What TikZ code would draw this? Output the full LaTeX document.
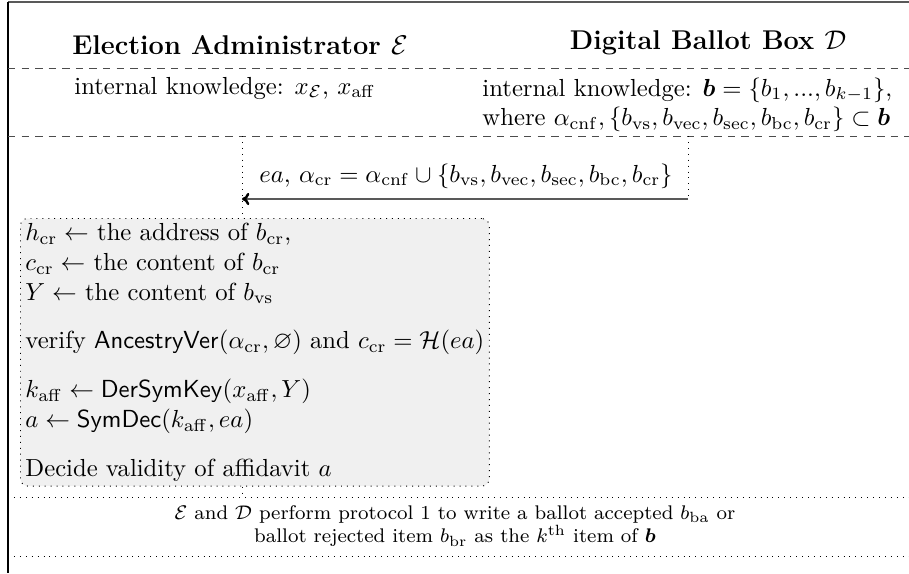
\documentclass[tikz,border=0pt]{standalone}
\usepackage{amsmath,amssymb,bm}
\usetikzlibrary{arrows.meta}
\tikzset{
  sep/.style={dashed, dash pattern=on 3pt off 2.5pt, line width=0.4pt, gray!60!black},
  dotline/.style={dotted, line width=0.4pt},
  msgarrow/.style={line width=1pt, gray!70!black, -{To[black,length=3pt,width=5pt]}},
  procbox/.style={draw, dotted, rounded corners=3pt, fill=gray!12, align=left, inner sep=2pt, anchor=north west},
  head/.style={font=\fontsize{11}{13}\selectfont\bfseries},
}
\begin{document}
\begin{tikzpicture}[x=0.405pt,y=-0.405pt]
\useasboundingbox (0,0) rectangle (909,573);
% frame
\draw[line width=0.5pt, gray!70!black] (8,2) -- (909,2);
\draw[line width=0.8pt] (8,1.5) -- (8,573);
% headers
\node[head] (hE) at (240,45) {Election Administrator $\mathcal{E}$};
\node[head] (hD) at (708,43) {Digital Ballot Box $\mathcal{D}$};
\coordinate (d1l) at (8,68); \coordinate (d1r) at (909,68);
\draw[sep] (d1l) -- (d1r);
\node (ikE) at (225,88) {internal knowledge: $x_{\mathcal{E}}$, $x_{\mathrm{aff}}$};
\node[anchor=north west, align=left, inner sep=0pt] (ikD) at (482,77) {internal knowledge: $\bm{b}=\{b_1,...,b_{k-1}\}$,\\ where $\alpha_{\mathrm{cnf}}, \{b_{\mathrm{vs}}, b_{\mathrm{vec}}, b_{\mathrm{sec}}, b_{\mathrm{bc}}, b_{\mathrm{cr}}\}\subset\bm{b}$};
\coordinate (d2l) at (8,136); \coordinate (d2r) at (909,136);
\draw[sep] (d2l) -- (d2r);
% message
\coordinate (tE) at (242,136);
\coordinate (tD) at (688,136);
\coordinate (aD) at (688,199);
\coordinate (aE) at (242,199);
\draw[dotline] (tD) -- (aD);
\draw[msgarrow] (aD) -- (aE);
\node (lbl) at (466,176) {$ea$, $\alpha_{\mathrm{cr}} = \alpha_{\mathrm{cnf}} \cup \{b_{\mathrm{vs}}, b_{\mathrm{vec}}, b_{\mathrm{sec}}, b_{\mathrm{bc}}, b_{\mathrm{cr}}\}$};
% box
\node[procbox] (box) at (20,218) {%
$h_{\mathrm{cr}} \leftarrow$ the address of $b_{\mathrm{cr}}$,\\
$c_{\mathrm{cr}} \leftarrow$ the content of $b_{\mathrm{cr}}$\\
$Y \leftarrow$ the content of $b_{\mathrm{vs}}$\\[1.8ex]
verify $\mathsf{AncestryVer}(\alpha_{\mathrm{cr}},\varnothing)$ and $c_{\mathrm{cr}} = \mathcal{H}(ea)$\\[1.8ex]
$k_{\mathrm{aff}} \leftarrow \mathsf{DerSymKey}(x_{\mathrm{aff}},Y)$\\
$a \leftarrow \mathsf{SymDec}(k_{\mathrm{aff}},ea)$\\[1.8ex]
Decide validity of affidavit $a$};
\draw[dotline] (tE) -- (box.north -| tE);
\coordinate (bE) at (242,497);
\draw[dotline] (box.south -| tE) -- (bE);
% bottom
\coordinate (d3l) at (8,497); \coordinate (d3r) at (909,497);
\draw[dotline] (d3l) -- (d3r);
\node[font=\footnotesize, align=center] (note) at (455,526) {$\mathcal{E}$ and $\mathcal{D}$ perform protocol 1 to write a ballot accepted $b_{\mathrm{ba}}$ or\\ ballot rejected item $b_{\mathrm{br}}$ as the $k^{\mathrm{th}}$ item of $\bm{b}$};
\coordinate (d4l) at (8,556); \coordinate (d4r) at (909,556);
\draw[dotline] (d4l) -- (d4r);
\end{tikzpicture}
\end{document}
